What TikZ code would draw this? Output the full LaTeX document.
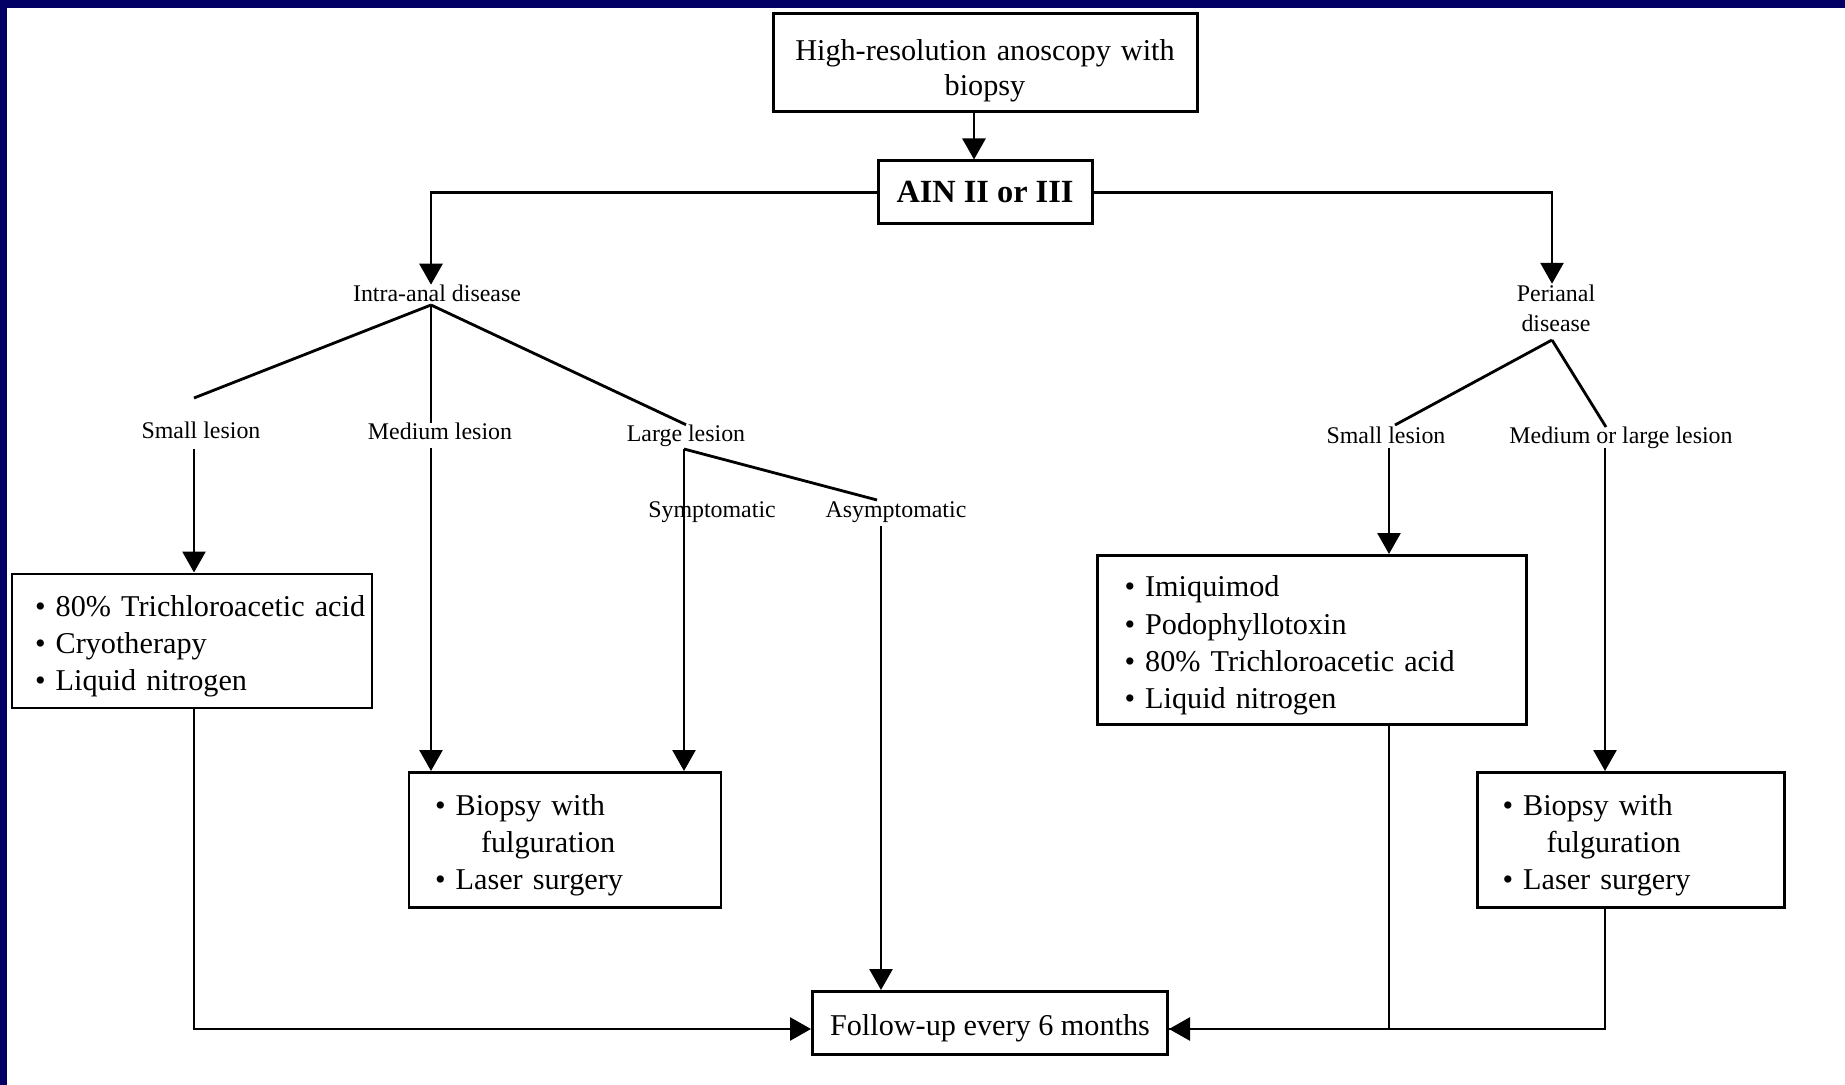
\documentclass[tikz,border=0pt]{standalone}
\usepackage{fontspec}
\setmainfont{Liberation Serif}
\usetikzlibrary{arrows.meta, positioning, calc}
\definecolor{framenavy}{RGB}{2,0,100}
\newcommand{\bitem}[1]{\mbox{\textbullet\ #1}}

\begin{document}
\begin{tikzpicture}[
    x=0.1mm, y=-0.1mm,
    box/.style={draw, line width=0.85pt, fill=white, inner sep=0pt, font=\fontsize{8.6}{9.9}\selectfont, align=center},
    lowbox/.style={box, execute at begin node={\rule{0pt}{3.2mm}}},
    listbox/.style={lowbox, align=left, font=\fontsize{8.6}{10.6}\selectfont},
    lbl/.style={font=\fontsize{6.8}{8.6}\selectfont, inner sep=0pt, anchor=base, align=center},
    link/.style={line width=0.8pt},
    arr/.style={link, -{Triangle[length=2.1mm, width=2.3mm]}}
]
    \useasboundingbox (0,0) rectangle (1845,1085);
    \fill[white] (0,0) rectangle (1845,1085);
    \fill[framenavy] (0,0) rectangle (1845,8);
    \fill[framenavy] (0,0) rectangle (7,1085);

    \node[box, execute at begin node={\rule{0pt}{3.6mm}}, text width=42.4mm, minimum height=9.8mm] (hra) at (985,63) {High-resolution anoscopy with\\biopsy};
    \node[box, minimum width=21.4mm, minimum height=6.3mm, font=\fontsize{9.2}{11}\selectfont\bfseries] (ain) [below=4.6mm of hra] {AIN II or III};
    \draw[arr] ([xshift=-1.1mm]hra.south) -- ([xshift=-1.1mm]hra.south |- ain.north);

    \node[lbl] (intra) at (437,302) {Intra-anal disease};
    \node[lbl, anchor=center] (peri) at (1556,308) {Perianal\\disease};

    \coordinate (intraJ) at (431,305);
    \coordinate (periJ) at (1552,340);
    \draw[arr] (ain.west) -| (intraJ |- intra.north);
    \draw[arr] (ain.east) -| (periJ |- peri.north);

    \node[lbl] (lsmall) at (201,439) {Small lesion};
    \node[lbl] (lmed) at (440,440) {Medium lesion};
    \node[lbl] (llarge) at (686,442) {Large lesion};
    \node[lbl] (lsymp) at (712,518) {Symptomatic};
    \node[lbl] (lasym) at (896,518) {Asymptomatic};
    \node[lbl] (psmall) at (1386,444) {Small lesion};
    \node[lbl] (pmed) at (1621,444) {Medium or large lesion};

    \node[listbox, inner xsep=2.3mm, text width=31.4mm, minimum height=13.4mm] (bxSmall) at (192,641)
      {\bitem{80\% Trichloroacetic acid}\\\bitem{Cryotherapy}\\\bitem{Liquid nitrogen}};
    \node[listbox, inner xsep=2.6mm, text width=26mm, minimum height=13.5mm] (bxMid) at (565,840)
      {\bitem{Biopsy with}\\\hspace*{4.6mm}fulguration\\\bitem{Laser surgery}};
    \node[listbox, inner xsep=2.7mm, text width=37.5mm, minimum height=16.9mm] (bxPeri) at (1312,640)
      {\bitem{Imiquimod}\\\bitem{Podophyllotoxin}\\\bitem{80\% Trichloroacetic acid}\\\bitem{Liquid nitrogen}};
    \node[listbox, inner xsep=2.5mm, text width=25.7mm, minimum height=13.5mm] (bxRight) at (1631,840)
      {\bitem{Biopsy with}\\\hspace*{4.4mm}fulguration\\\bitem{Laser surgery}};
    \node[lowbox, minimum width=35.5mm, minimum height=6.3mm] (follow) at (990,1023) {Follow-up every 6 months};

    \coordinate (smallEnd) at (194,398);
    \coordinate (smallOut) at (194,449);
    \coordinate (medEnd) at (431,423);
    \coordinate (medOut) at (431,448);
    \coordinate (largeOut) at (684,449);
    \coordinate (asymEnd) at (877,500);
    \coordinate (asymOut) at (881,526);
    \coordinate (pSmallEnd) at (1395,425);
    \coordinate (pSmallOut) at (1389,448);
    \coordinate (pMedEnd) at (1606,427);
    \coordinate (pMedOut) at (1605,448);

    \draw[link] (intraJ) -- (smallEnd);
    \draw[link] (intraJ) -- (medEnd);
    \draw[link] (intraJ) -- (llarge.north);
    \draw[arr] (smallOut) -- (smallOut |- bxSmall.north);
    \draw[arr] (medOut) -- (medOut |- bxMid.north);
    \draw[arr] (largeOut) -- (largeOut |- bxMid.north);
    \draw[link] (largeOut) -- (asymEnd);
    \draw[arr] (asymOut) -- (asymOut |- follow.north);

    \draw[link] (periJ) -- (pSmallEnd);
    \draw[link] (periJ) -- (pMedEnd);
    \draw[arr] (pSmallOut) -- (pSmallOut |- bxPeri.north);
    \draw[arr] (pMedOut) -- (pMedOut |- bxRight.north);

    \draw[arr] (smallOut |- bxSmall.south) |- ([yshift=-0.6mm]follow.west);
    \draw[link] (pSmallOut |- bxPeri.south) |- ([yshift=-0.6mm]follow.east);
    \draw[arr] (pMedOut |- bxRight.south) |- ([yshift=-0.6mm]follow.east);
\end{tikzpicture}
\end{document}
